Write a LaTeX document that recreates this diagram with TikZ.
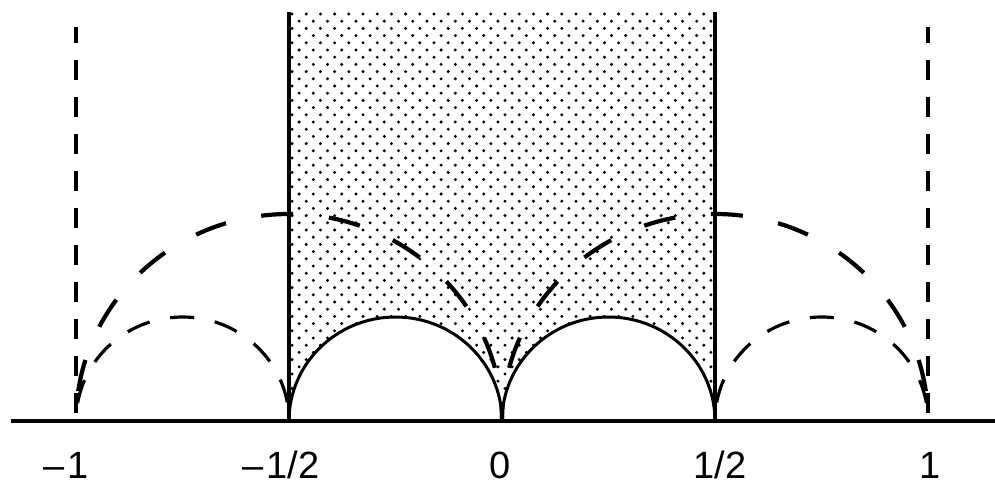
\documentclass[tikz,border=0pt]{standalone}
\usepackage{fontspec}
\setmainfont{Liberation Sans}
\begin{document}
\begin{tikzpicture}[x=1pt,y=1pt,
  axisline/.style={line width=4.2pt},
  wall/.style={line width=3.2pt},
  guide/.style={line width=3.2pt, dash pattern=on 20pt off 17pt, dash phase=4pt},
  bigarc/.style={line width=4.2pt, dash pattern=on 32pt off 36pt, dash phase=-30pt},
  smallarc/.style={line width=3.2pt, dash pattern=on 24pt off 21pt, dash phase=-18pt},
  bound/.style={line width=3pt},
  dotfill/.style={fill=black},
  lab/.style={font=\fontsize{38}{38}\selectfont, anchor=base, inner sep=0pt}]
\useasboundingbox (0,0) rectangle (995,488);
\coordinate (axl) at (11,67);
\coordinate (axr) at (995,67);
\coordinate (m1) at (76,67);
\coordinate (mh) at (289,67);
\coordinate (o) at (502,67);
\coordinate (ph) at (715,67);
\coordinate (p1) at (928,67);
\coordinate (mhtop) at (289,476);
\coordinate (phtop) at (715,476);
\coordinate (m1top) at (76,461);
\coordinate (p1top) at (928,461);

% dotted region
\begin{scope}
\clip (mhtop) -- (mh) arc[start angle=180,end angle=0,x radius=106.5,y radius=104]
  arc[start angle=180,end angle=0,x radius=106.5,y radius=104] -- (phtop) -- cycle;
\foreach \j in {0,...,58} {
  \pgfmathsetmacro\yy{474-7.2*\j}
  \pgfmathsetmacro\off{mod(\j,2)*7.1}
  \foreach \i in {0,...,30} {
    \fill[dotfill] ({292+\off+14.2*\i},{\yy}) circle[radius=1.65];
  }
}
\end{scope}

% lower boundary of the region
\draw[bound] (mh) arc[start angle=180,end angle=0,x radius=106.5,y radius=104]
  arc[start angle=180,end angle=0,x radius=106.5,y radius=104];
% walls
\draw[wall] (mhtop) -- (mh);
\draw[wall] (phtop) -- (ph);
% dashed verticals
\draw[guide] (m1top) -- (m1);
\draw[guide] (p1top) -- (p1);
% big dashed arcs
\draw[bigarc] (m1) arc[start angle=180,end angle=0,x radius=213,y radius=207];
\draw[bigarc] (p1) arc[start angle=0,end angle=180,x radius=213,y radius=207];
% small dashed arcs
\draw[smallarc] (m1) arc[start angle=180,end angle=0,x radius=106.5,y radius=104];
\draw[smallarc] (p1) arc[start angle=0,end angle=180,x radius=106.5,y radius=104];
% axis
\draw[axisline] (axl) -- (axr);

% labels
\node[lab] (lm1) at (66,10) {–\kern3pt1};
\node[lab] (lmh) at (281,10) {–\kern3pt1/2};
\node[lab] (lo) at (500,10) {0};
\node[lab] (lph) at (720,10) {1/2};
\node[lab] (lp1) at (930,10) {1};
\end{tikzpicture}
\end{document}
